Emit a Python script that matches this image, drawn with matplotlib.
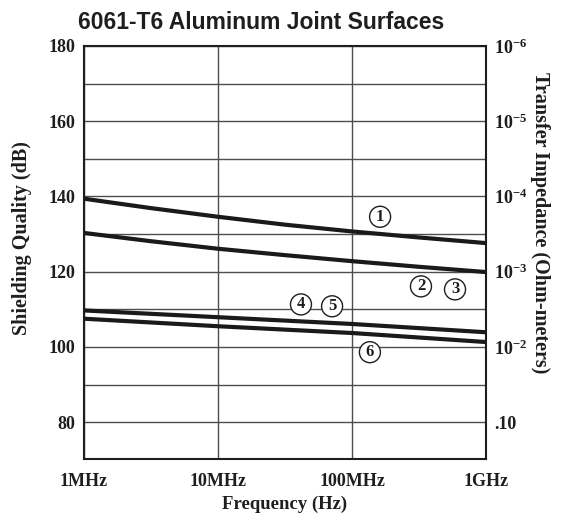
import matplotlib
matplotlib.use("Agg")
import matplotlib.pyplot as plt
import numpy as np

# frequency in Hz (half-decade reading points)
freq = [1e6, 3.16e6, 1e7, 3.16e7, 1e8, 3.16e8, 1e9]
curve_1 = [139.4, 136.9, 134.6, 132.5, 130.7, 129.1, 127.6]
curve_2 = [130.3, 128.1, 126.1, 124.4, 122.8, 121.3, 119.9]
curve_3 = [109.7, 108.8, 107.9, 107.0, 106.1, 105.0, 103.9]
curve_4 = [107.5, 106.5, 105.5, 104.6, 103.7, 102.5, 101.3]

x_ticks = [1e6, 1e7, 1e8, 1e9]
x_labels = ["1MHz", "10MHz", "100MHz", "1GHz"]
y_ticks = [80, 100, 120, 140, 160, 180]
right_labels = [".10", "10$^{-2}$", "10$^{-3}$", "10$^{-4}$", "10$^{-5}$", "10$^{-6}$"]

# circled curve numbers: (label, freq, dB)
markers = [
    ("1", 1.62e8, 134.6),
    ("2", 3.27e8, 116.1),
    ("3", 5.87e8, 115.3),
    ("4", 4.16e7, 111.3),
    ("5", 7.10e7, 110.8),
    ("6", 1.36e8, 98.6),
]

plt.rcParams["mathtext.fontset"] = "custom"
plt.rcParams["mathtext.rm"] = "Liberation Serif:bold"
plt.rcParams["mathtext.default"] = "regular"

serif = "Liberation Serif"
ink = "#1e1e1e"
fig = plt.figure(figsize=(5.66, 5.15), dpi=100)
ax = fig.add_axes([0.1484, 0.1087, 0.7103, 0.802])

for ys in (curve_1, curve_2, curve_3, curve_4):
    ax.plot(freq, ys, color="#1a1a1a", lw=3.0, solid_capstyle="butt", zorder=3)

ax.set_xscale("log")
ax.set_xlim(1e6, 1e9)
ax.set_ylim(70.2, 180)
ax.set_xticks(x_ticks)
ax.set_xticklabels(x_labels)
ax.xaxis.set_minor_locator(matplotlib.ticker.NullLocator())
ax.set_yticks(y_ticks)
ax.set_yticks(np.arange(90, 180, 20), minor=True)
ax.grid(True, which="both", color="#4d4d4d", lw=1.0, zorder=1)
ax.tick_params(which="both", length=0, labelsize=13, pad=6)
for lab in ax.get_xticklabels() + ax.get_yticklabels():
    lab.set_fontfamily(serif)
    lab.set_fontweight("bold")
    lab.set_color(ink)
ax.tick_params(axis="x", pad=10)
for s in ax.spines.values():
    s.set_linewidth(1.5)
    s.set_color(ink)

ax.set_xlabel("Frequency (Hz)", fontfamily=serif, fontweight="bold", fontsize=13.5,
              color=ink, labelpad=4)
ax.set_ylabel("Shielding Quality (dB)", fontfamily=serif, fontweight="bold", fontsize=14.5,
              color=ink, labelpad=12)
ax.yaxis.label.set_y(0.536)

ax2 = ax.twinx()
ax2.set_ylim(ax.get_ylim())
ax2.set_yticks(y_ticks)
ax2.set_yticklabels(right_labels)
ax2.tick_params(length=0, labelsize=13, pad=6)
for lab in ax2.get_yticklabels():
    lab.set_fontfamily(serif)
    lab.set_fontweight("bold")
    lab.set_color(ink)
for s in ax2.spines.values():
    s.set_visible(False)
ax2.set_ylabel("Transfer Impedance (Ohm-meters)", fontfamily=serif, fontweight="bold",
               fontsize=14.5, color=ink, rotation=-90, labelpad=16)
ax2.yaxis.label.set_y(0.571)

for text, fx, db in markers:
    ax.text(fx, db, text, ha="center", va="center", fontsize=12, fontfamily=serif,
            fontweight="bold", color=ink, zorder=5,
            bbox=dict(boxstyle="circle,pad=0.15", fc="white", ec=ink, lw=1.0))

fig.suptitle("6061-T6 Aluminum Joint Surfaces", x=0.462, y=0.978, fontsize=16.5,
             fontweight="bold", fontfamily="Liberation Sans", color=ink)

fig.savefig("out.png", dpi=100)
